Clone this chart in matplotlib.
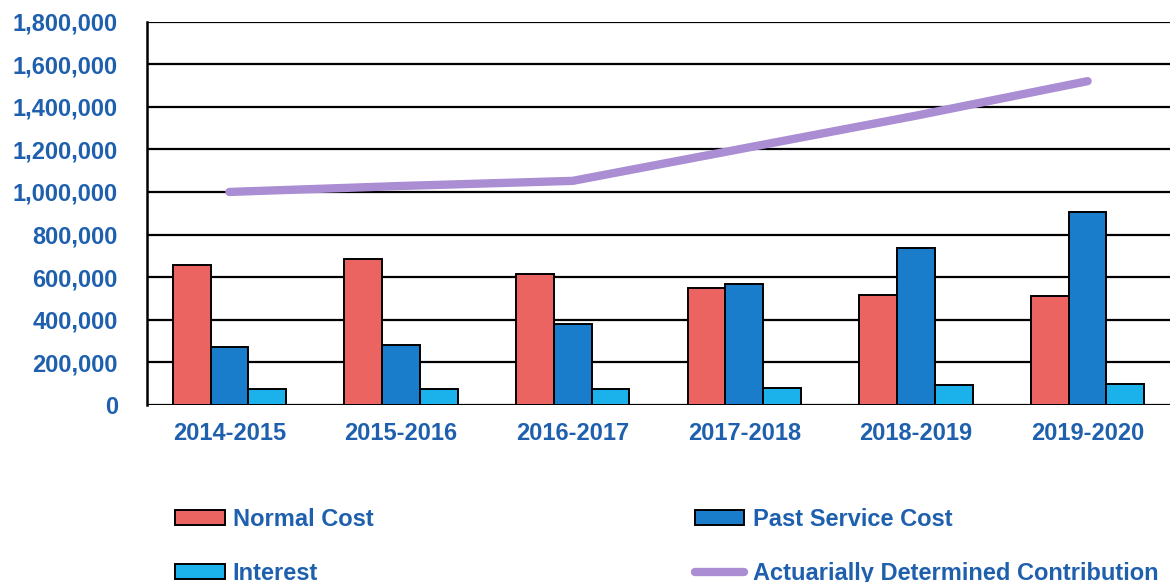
import numpy as np
import matplotlib
matplotlib.use("Agg")
import matplotlib.pyplot as plt
from matplotlib.patches import Patch
from matplotlib.lines import Line2D
from matplotlib.ticker import FuncFormatter

years = ["2014-2015", "2015-2016", "2016-2017", "2017-2018", "2018-2019", "2019-2020"]
normal_cost = [655000, 685000, 616000, 548000, 518000, 510000]
past_service = [274000, 280000, 380000, 566000, 735000, 908000]
interest = [73000, 77000, 77000, 82000, 92000, 100000]
adc = [1000000, 1028000, 1052000, 1205000, 1358000, 1520000]

RED = "#EC6462"
BLUE = "#1A7DCB"
CYAN = "#1BB2EC"
PURPLE = "#AA8DD3"
TEXT = "#1F60AE"

plt.rcParams["font.family"] = ["Liberation Sans", "DejaVu Sans"]
plt.rcParams["font.weight"] = "bold"

W, H = 1170, 582
fig = plt.figure(figsize=(W / 100, H / 100), dpi=100)
# axes box in pixels: left 147, right 1170, top 21.5, bottom 405
ax = fig.add_axes([147 / W, (H - 405) / H, (1170 - 147) / W, (405 - 21.5) / H])

x = np.arange(len(years))
bw = 0.22
edge = dict(edgecolor="black", linewidth=1.4, zorder=3)
ax.bar(x - bw, normal_cost, bw, color=RED, **edge)
ax.bar(x, past_service, bw, color=BLUE, **edge)
ax.bar(x + bw, interest, bw, color=CYAN, **edge)

ax.plot(x, adc, color=PURPLE, linewidth=6, solid_capstyle="round",
        solid_joinstyle="round", zorder=4)

ax.set_xlim(-0.48, len(years) - 0.52)
ax.set_ylim(0, 1800000)
ax.set_yticks(np.arange(0, 1800001, 200000))
ax.yaxis.set_major_formatter(FuncFormatter(lambda v, p: f"{v:,.0f}"))
ax.set_xticks(x)
ax.set_xticklabels(years)

ax.grid(axis="y", color="black", linewidth=1.6, zorder=0)
ax.set_axisbelow(True)
for side in ["top", "right", "bottom"]:
    ax.spines[side].set_visible(False)
ax.spines["left"].set_linewidth(1.8)
ax.axhline(0, color="black", linewidth=1.8, zorder=5)

ax.tick_params(axis="y", length=0, pad=21, labelsize=17, labelcolor=TEXT)
ax.tick_params(axis="x", length=0, pad=12, labelsize=17, labelcolor=TEXT)

handles = [
    Patch(facecolor=RED, edgecolor="black", linewidth=1.4, label="Normal Cost"),
    Patch(facecolor=CYAN, edgecolor="black", linewidth=1.4, label="Interest"),
    Patch(facecolor=BLUE, edgecolor="black", linewidth=1.4, label="Past Service Cost"),
    Line2D([0], [0], color=PURPLE, linewidth=6, solid_capstyle="round",
           label="Actuarially Determined Contribution"),
]
leg = fig.legend(handles=handles, ncol=2, loc="upper left",
                 bbox_to_anchor=(175 / W, (H - 508) / H),
                 frameon=False, fontsize=17, borderpad=0, borderaxespad=0,
                 handlelength=2.1, handleheight=0.6, handletextpad=0.35,
                 columnspacing=13.6, labelspacing=1.3)
for t in leg.get_texts():
    t.set_color(TEXT)

fig.savefig("out.png", dpi=100)
